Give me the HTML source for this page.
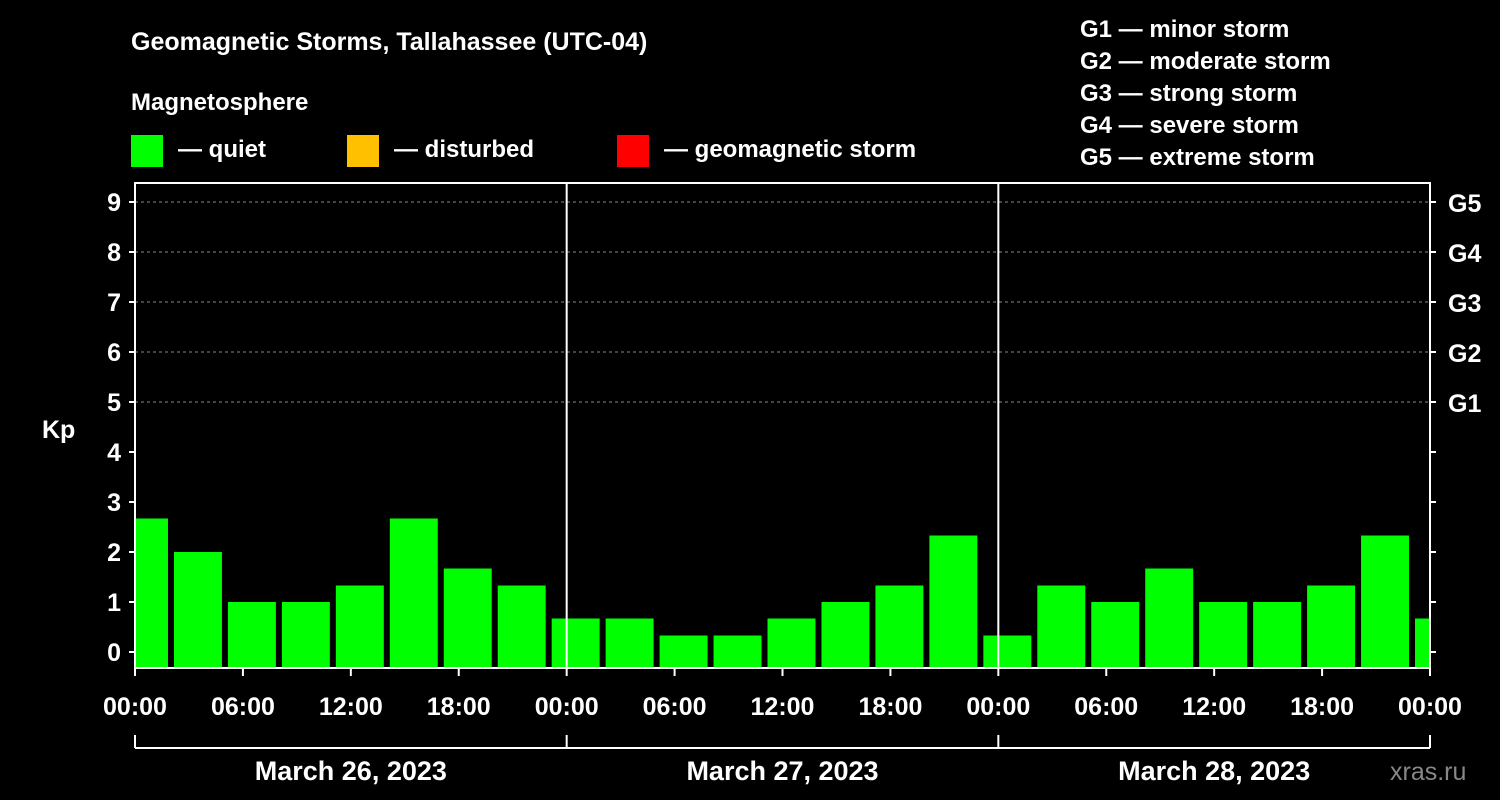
<!DOCTYPE html>
<html><head><meta charset="utf-8"><style>
body{margin:0;background:#000;}
svg{display:block;font-family:"Liberation Sans",Arial,sans-serif;font-weight:bold;}
</style></head><body>
<svg id="chart" width="1500" height="800">
<rect width="1500" height="800" fill="#000"/>
<text x="131" y="50" fill="#fff" font-size="25">Geomagnetic Storms, Tallahassee (UTC-04)</text>
<text x="131" y="110" fill="#fff" font-size="24">Magnetosphere</text>
<g><rect x="131" y="135" width="32" height="32" fill="#00ff00"/><text x="178" y="157" fill="#fff" font-size="24">— quiet</text></g>
<g><rect x="347" y="135" width="32" height="32" fill="#ffc000"/><text x="394" y="157" fill="#fff" font-size="24">— disturbed</text></g>
<g><rect x="617" y="135" width="32" height="32" fill="#ff0000"/><text x="664" y="157" fill="#fff" font-size="24">— geomagnetic storm</text></g>
<g fill="#fff" font-size="24">
<text x="1080" y="37">G1 — minor storm</text><text x="1080" y="69">G2 — moderate storm</text><text x="1080" y="101">G3 — strong storm</text><text x="1080" y="133">G4 — severe storm</text><text x="1080" y="165">G5 — extreme storm</text></g>
<text x="42" y="438" fill="#fff" font-size="25">Kp</text>
<text x="1390" y="780" fill="#888" font-size="25" font-weight="normal">xras.ru</text>
<defs><clipPath id="pc"><rect x="135" y="183" width="1295" height="486"/></clipPath></defs>
<g id="grid"></g><g id="bars" clip-path="url(#pc)"></g><g id="axes"></g>
</svg>
<script>
const kpValues=[2.67,2.0,1.0,1.0,1.33,2.67,1.67,1.33,0.67,0.67,0.33,0.33,0.67,1.0,1.33,2.33,0.33,1.33,1.0,1.67,1.0,1.0,1.33,2.33,0.67];
const xTickLabels=["00:00","06:00","12:00","18:00","00:00","06:00","12:00","18:00","00:00","06:00","12:00","18:00","00:00"];
const dayLabels=["March 26, 2023","March 27, 2023","March 28, 2023"];
const yTickLabels=["0","1","2","3","4","5","6","7","8","9"];
const gLabels=["G1","G2","G3","G4","G5"];
const firstBarStartHour=-1;
const L=135,R=1430,T=183,B=668;
const ns="http://www.w3.org/2000/svg";
const xs=h=>L+h*(R-L)/72;
const ys=v=>652-50*v;
function mk(tag,attrs,parent,txt){const e=document.createElementNS(ns,tag);for(const k in attrs)e.setAttribute(k,attrs[k]);if(txt!==undefined)e.textContent=txt;parent.appendChild(e);return e;}
const grid=document.getElementById('grid'),bars=document.getElementById('bars'),axes=document.getElementById('axes');
for(let i=5;i<=9;i++){const l=mk('line',{x1:L,x2:R,y1:ys(i),y2:ys(i),stroke:'#888','stroke-dasharray':'3,3'},grid);

}
kpValues.forEach((v,i)=>{const h0=firstBarStartHour+3*i;const x0=xs(h0)+3,x1=xs(h0+3)-3;
const c=v>=5?'#ff0000':(v>=4?'#ffc000':'#00ff00');
const r=mk('rect',{x:x0,y:ys(v),width:x1-x0,height:B-ys(v),fill:c},bars);

});
mk('rect',{x:L,y:T,width:R-L,height:B-T,fill:'none',stroke:'#fff','stroke-width':2},axes);
[1,2].forEach(d=>{const l=mk('line',{x1:xs(24*d),x2:xs(24*d),y1:T,y2:B,stroke:'#fff','stroke-width':2},axes);

});
yTickLabels.forEach((t,i)=>{const y=ys(i);
mk('line',{x1:L-6,x2:L,y1:y,y2:y,stroke:'#fff','stroke-width':2},axes);
mk('line',{x1:R,x2:R+6,y1:y,y2:y,stroke:'#fff','stroke-width':2},axes);
const tx=mk('text',{x:L-14,y:y+9,fill:'#fff','font-size':25,'text-anchor':'end'},axes,t);

});
gLabels.forEach((t,i)=>{const tx=mk('text',{x:R+18,y:ys(5+i)+10,fill:'#fff','font-size':25},axes,t);

});
xTickLabels.forEach((t,i)=>{const x=xs(6*i);
mk('line',{x1:x,x2:x,y1:B,y2:B+8,stroke:'#fff','stroke-width':2},axes);
const tx=mk('text',{x:x,y:715,fill:'#fff','font-size':25,'text-anchor':'middle'},axes,t);

});
mk('line',{x1:L,x2:R,y1:748,y2:748,stroke:'#fff','stroke-width':2},axes);
for(let d=0;d<=3;d++)mk('line',{x1:xs(24*d),x2:xs(24*d),y1:735,y2:748,stroke:'#fff','stroke-width':2},axes);
dayLabels.forEach((t,i)=>{const tx=mk('text',{x:xs(24*i+12),y:780,fill:'#fff','font-size':27,'text-anchor':'middle'},axes,t);

});
</script>
</body></html>
